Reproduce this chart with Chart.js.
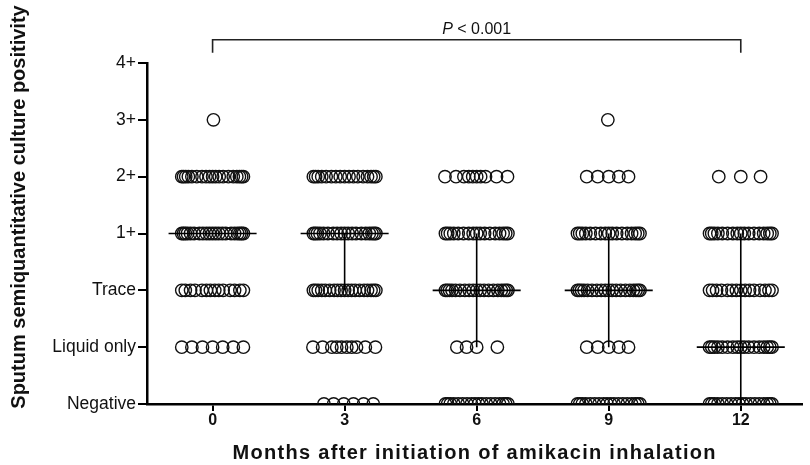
<!DOCTYPE html>
<html>
<head>
<meta charset="utf-8">
<script src="https://cdn.jsdelivr.net/npm/chart.js@4/dist/chart.umd.min.js"></script>
<style>
  html, body { margin: 0; padding: 0; background: #fff; }
  #wrap { width: 810px; height: 465px; position: relative; }
</style>
</head>
<body>
<div id="wrap"><canvas id="c" width="810" height="465"></canvas></div>
<script>
// ---- Data ----
const months = [0, 3, 6, 9, 12];
const levelLabels = ['Negative', 'Liquid only', 'Trace', '1+', '2+', '3+', '4+'];
const xTitle = 'Months after initiation of amikacin inhalation';
const yTitle = 'Sputum semiquantitative culture positivity';

// Horizontal jitter (in months) of each patient's circle, per level [Negative, Liquid only, Trace, 1+, 2+, 3+]
const month0 = [
  [],
  [-0.70, -0.47, -0.23, 0, 0.23, 0.47, 0.70],
  [-0.70, -0.62, -0.50, -0.40, -0.24, -0.14, -0.05, 0.05, 0.14, 0.24, 0.40, 0.50, 0.62, 0.70],
  [-0.70, -0.66, -0.62, -0.57, -0.50, -0.42, -0.30, -0.22, -0.14, -0.07, 0, 0.07, 0.14, 0.22, 0.30, 0.42, 0.50, 0.57, 0.62, 0.66, 0.70],
  [-0.70, -0.66, -0.61, -0.55, -0.47, -0.36, -0.24, -0.15, -0.07, 0, 0.07, 0.15, 0.24, 0.36, 0.47, 0.55, 0.61, 0.66, 0.70],
  [0.02]
];
const month3 = [
  [-0.47, -0.25, -0.02, 0.20, 0.43, 0.65],
  [-0.72, -0.50, -0.29, -0.18, -0.07, 0.05, 0.16, 0.27, 0.47, 0.70],
  [-0.71, -0.66, -0.60, -0.52, -0.44, -0.34, -0.24, -0.16, -0.08, 0, 0.08, 0.16, 0.24, 0.34, 0.44, 0.52, 0.60, 0.66, 0.71],
  [-0.71, -0.67, -0.62, -0.56, -0.48, -0.38, -0.26, -0.17, -0.08, 0, 0.08, 0.17, 0.26, 0.38, 0.48, 0.56, 0.62, 0.67, 0.71],
  [-0.71, -0.66, -0.60, -0.52, -0.42, -0.30, -0.20, -0.10, 0, 0.10, 0.20, 0.30, 0.42, 0.52, 0.60, 0.66, 0.71],
  []
];
const month6 = [
  [-0.71, -0.66, -0.60, -0.52, -0.42, -0.32, -0.22, -0.12, -0.04, 0.04, 0.12, 0.22, 0.32, 0.42, 0.52, 0.60, 0.66, 0.71],
  [-0.45, -0.23, 0, 0.47],
  [-0.71, -0.67, -0.62, -0.56, -0.48, -0.38, -0.27, -0.17, -0.08, 0, 0.08, 0.17, 0.27, 0.38, 0.48, 0.56, 0.62, 0.67, 0.71],
  [-0.71, -0.66, -0.60, -0.52, -0.42, -0.30, -0.18, -0.08, 0, 0.08, 0.18, 0.30, 0.42, 0.52, 0.60, 0.66, 0.71],
  [-0.72, -0.47, -0.29, -0.18, -0.09, 0, 0.09, 0.20, 0.45, 0.70],
  []
];
const month9 = [
  [-0.71, -0.66, -0.60, -0.52, -0.42, -0.32, -0.22, -0.12, -0.04, 0.04, 0.12, 0.22, 0.32, 0.42, 0.52, 0.60, 0.66, 0.71],
  [-0.50, -0.25, 0, 0.23, 0.45],
  [-0.71, -0.67, -0.62, -0.56, -0.48, -0.38, -0.27, -0.17, -0.08, 0, 0.08, 0.17, 0.27, 0.38, 0.48, 0.56, 0.62, 0.67, 0.71],
  [-0.71, -0.66, -0.60, -0.52, -0.42, -0.30, -0.18, -0.08, 0, 0.08, 0.18, 0.30, 0.42, 0.52, 0.60, 0.66, 0.71],
  [-0.50, -0.25, 0, 0.23, 0.45],
  [-0.02]
];
const month12 = [
  [-0.71, -0.66, -0.60, -0.52, -0.42, -0.32, -0.22, -0.12, -0.04, 0.04, 0.12, 0.22, 0.32, 0.42, 0.52, 0.60, 0.66, 0.71],
  [-0.71, -0.66, -0.60, -0.52, -0.42, -0.30, -0.18, -0.08, 0, 0.08, 0.18, 0.30, 0.42, 0.52, 0.60, 0.66, 0.71],
  [-0.71, -0.64, -0.55, -0.44, -0.30, -0.20, -0.10, 0, 0.10, 0.20, 0.30, 0.44, 0.55, 0.64, 0.71],
  [-0.71, -0.66, -0.60, -0.52, -0.42, -0.30, -0.18, -0.08, 0, 0.08, 0.18, 0.30, 0.42, 0.52, 0.60, 0.66, 0.71],
  [-0.50, 0, 0.45],
  []
];
const groups = [month0, month3, month6, month9, month12];

// Median and interquartile range (level index)
const medians = [3, 3, 2, 2, 1];
const q1 = [3, 2, 1, 1, 0];
const q3 = [3, 3, 3, 3, 3];

const pLabelItalic = 'P';
const pLabelRest = ' < 0.001';

// ---- Build datasets ----
const points = [];
groups.forEach((g, gi) => {
  g.forEach((offs, lvl) => {
    offs.forEach(o => points.push({ x: months[gi] + o, y: lvl }));
  });
});

const datasets = [];
months.forEach((m, i) => {
  datasets.push({
    type: 'line',
    data: [{ x: m - 1, y: medians[i] }, { x: m + 1, y: medians[i] }],
    borderColor: '#000', borderWidth: 1.6, pointRadius: 0, fill: false
  });
  if (q1[i] !== q3[i]) {
    datasets.push({
      type: 'line',
      data: [{ x: m, y: q1[i] }, { x: m, y: q3[i] }],
      borderColor: '#000', borderWidth: 1.6, pointRadius: 0, fill: false
    });
  }
});
datasets.push({
  type: 'scatter',
  data: points,
  pointStyle: 'circle',
  pointRadius: 6.2,
  pointHoverRadius: 6.2,
  borderWidth: 1.4,
  borderColor: '#111',
  backgroundColor: 'rgba(0,0,0,0)'
});

const FONT = '"Liberation Sans", Arial, sans-serif';

const annotationPlugin = {
  id: 'annot',
  afterDraw(chart) {
    const xs = chart.scales.x, ys = chart.scales.y, ctx = chart.ctx;
    const x0 = xs.getPixelForValue(months[0]);
    const x1 = xs.getPixelForValue(months[months.length - 1]);
    const yTop = ys.getPixelForValue(6.41);
    const yLeg = ys.getPixelForValue(6.18);
    ctx.save();
    // significance bracket
    ctx.strokeStyle = '#222';
    ctx.lineWidth = 1.6;
    ctx.beginPath();
    ctx.moveTo(x0, yLeg); ctx.lineTo(x0, yTop); ctx.lineTo(x1, yTop); ctx.lineTo(x1, yLeg);
    ctx.stroke();
    const yText = ys.getPixelForValue(6.58);
    ctx.fillStyle = '#111';
    ctx.textBaseline = 'middle';
    ctx.font = 'italic 16px ' + FONT;
    const w1 = ctx.measureText(pLabelItalic).width;
    ctx.font = '16px ' + FONT;
    const w2 = ctx.measureText(pLabelRest).width;
    const xc = (x0 + x1) / 2;
    const start = xc - (w1 + w2) / 2;
    ctx.textAlign = 'left';
    ctx.font = 'italic 16px ' + FONT;
    ctx.fillText(pLabelItalic, start, yText);
    ctx.font = '16px ' + FONT;
    ctx.fillText(pLabelRest, start + w1, yText);

    // x axis title (letter-spaced)
    ctx.font = 'bold 20px ' + FONT;
    ctx.letterSpacing = '1.3px';
    ctx.textAlign = 'center';
    ctx.textBaseline = 'middle';
    ctx.fillText(xTitle, xc - 2, ys.bottom + 49);

    // y axis title
    ctx.letterSpacing = '0px';
    ctx.font = 'bold 20px ' + FONT;
    ctx.translate(19, 207);
    ctx.rotate(-Math.PI / 2);
    ctx.fillText(yTitle, 0, 0);
    ctx.restore();
  }
};

new Chart(document.getElementById('c'), {
  data: { datasets },
  options: {
    responsive: false,
    animation: false,
    events: [],
    layout: { padding: { top: 63, right: 2, left: 0, bottom: 0 } },
    plugins: { legend: { display: false }, tooltip: { enabled: false } },
    scales: {
      x: {
        type: 'linear',
        min: -1.49,
        max: 13.4,
        afterBuildTicks: (s) => { s.ticks = months.map(v => ({ value: v })); },
        afterFit: (s) => { s.height = 61; },
        grid: { drawOnChartArea: false, drawTicks: true, tickLength: 7, color: '#000', lineWidth: 2 },
        border: { display: true, color: '#000', width: 2.5 },
        ticks: {
          color: '#111', padding: 0,
          font: { family: FONT, size: 16, weight: 'bold' },
          callback: (v) => String(v)
        },
        title: { display: false }
      },
      y: {
        type: 'linear',
        min: 0,
        max: 6,
        afterBuildTicks: (s) => { s.ticks = levelLabels.map((l, i) => ({ value: i })); },
        afterFit: (s) => { s.width = 147; },
        grid: { drawOnChartArea: false, drawTicks: true, tickLength: 9, color: '#000', lineWidth: 2 },
        border: { display: true, color: '#000', width: 2.5 },
        ticks: {
          color: '#111', padding: 2,
          font: { family: FONT, size: 17.5 },
          callback: (v) => levelLabels[v]
        },
        title: { display: false }
      }
    }
  },
  plugins: [annotationPlugin]
});
</script>
</body>
</html>
